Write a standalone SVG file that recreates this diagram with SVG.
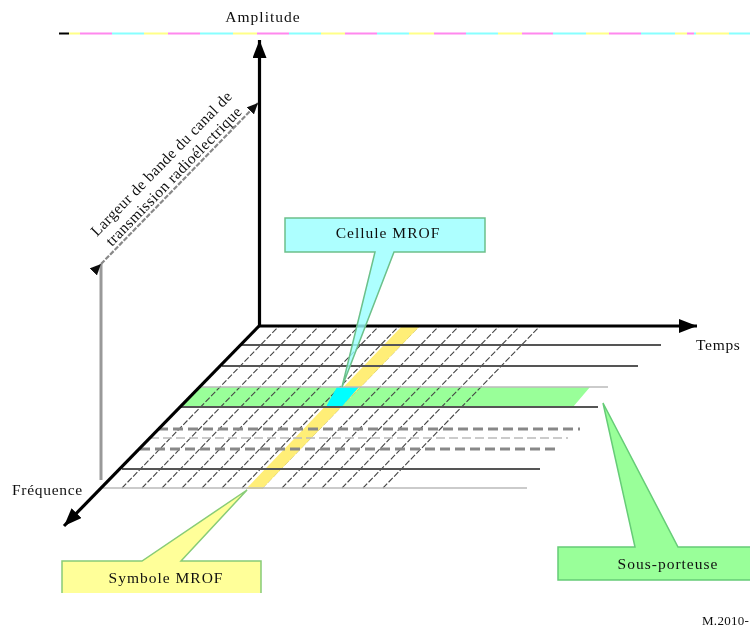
<svg xmlns="http://www.w3.org/2000/svg" width="750" height="627" viewBox="0 0 750 627">
<defs>
<filter id="soft" filterUnits="userSpaceOnUse" x="0" y="0" width="750" height="627"><feGaussianBlur stdDeviation="0.5"/></filter>
<style>
svg>g{filter:url(#soft)}
text{font-family:"Liberation Serif","Times New Roman",serif;font-size:15.5px;fill:#111;letter-spacing:1px}
.m{text-anchor:middle}
.r{letter-spacing:.45px}
.n{letter-spacing:.7px}
.grid{stroke:#444;stroke-width:1.1;stroke-dasharray:6 2;fill:none}
.h{stroke:#555;stroke-width:1.9;fill:none}
.hl{stroke:#bbb;stroke-width:1.6;fill:none}
.hd{stroke:#888;stroke-width:3;stroke-dasharray:10 5;fill:none}
.hdl{stroke:#bbb;stroke-width:1.4;stroke-dasharray:9 4;fill:none}
.axis{stroke:#000;stroke-width:3.2;fill:none}
.ga{stroke:#999;stroke-width:3;fill:none}
</style>
<marker id="big" markerUnits="userSpaceOnUse" markerWidth="20" markerHeight="14" refX="18" refY="7" orient="auto"><path d="M0 0L18 7L0 14Z" fill="#000"/></marker>
<marker id="small" markerUnits="userSpaceOnUse" markerWidth="12" markerHeight="10" refX="11" refY="5" orient="auto"><path d="M0 0L11 5L0 10Z" fill="#111"/></marker>
</defs>
<rect width="750" height="627" fill="#fff"/>
<g id="colour-strip" stroke-width="2" fill="none">
<path d="M59 33.5H69" stroke="#000"/>
<path d="M69 33.5H80M144 33.5H168M233 33.5H257M321 33.5H345M409 33.5H434M498 33.5H522M586 33.5H609M675 33.5H687M696 33.5H729" stroke="#ffff88"/>
<path d="M80 33.5H112M168 33.5H200M257 33.5H289M345 33.5H377M434 33.5H466M522 33.5H553M609 33.5H641M687 33.5H694" stroke="#ff88ee"/>
<path d="M112 33.5H144M200 33.5H233M289 33.5H321M377 33.5H409M466 33.5H498M553 33.5H586M641 33.5H675M694 33.5H696M729 33.5H750" stroke="#88ffff"/>
</g>
<g id="green-band">
<path d="M198 387H590L573 407H180Z" fill="#99ff99"/>
</g>
<g id="connectors">
<path class="grid" d="M122 488L279 326M142 488L299 326M162 488L319 326M182 488L339 326M202 488L359 326M222 488L379 326M242 488L399 326M262 488L419 326M282 488L439 326M302 488L459 326M322 488L479 326M342 488L499 326M363 488L520 326M383 488L540 326"/>
<path d="M246 489L402 326H420L262 489Z" fill="#ffee77"/>
<path d="M337 387H359L342 406.500H326Z" fill="#00ffff"/>
<path class="h" d="M241 345H661M222 366H638M180 407H598M122 469H540"/>
<path class="hl" d="M198 387H608M103 488H527"/>
<path class="hd" d="M158 429H580M140 449H558"/>
<path class="hdl" d="M150 438H568"/>
<path class="ga" d="M101 480V264"/>
<path d="M101 264L258 103" stroke="#888" stroke-width="2.200" stroke-dasharray="5 1.500" fill="none" marker-start="url(#small)" marker-end="url(#small)"/>
<path class="axis" d="M259.500 327V40" marker-end="url(#big)"/>
<path class="axis" d="M259 326H697" marker-end="url(#big)"/>
<path class="axis" d="M259 326L64 526" marker-end="url(#big)"/>
</g>
<g id="cellule-mrof">
<path d="M285 218H485V252H394L342 387L375 252H285Z" fill="#99ffff" fill-opacity=".8" stroke="#6cc08a" stroke-width="1.500"/>
<text class="m" x="388" y="238">Cellule MROF</text>
</g>
<g id="symbole-mrof">
<path d="M62 593V561H142L247 490L181 561H261V593" fill="#ffff99" stroke="#88cc77" stroke-width="1.500"/>
<text class="m" x="166" y="583">Symbole MROF</text>
</g>
<g id="sous-porteuse">
<path d="M750 547H678L603 403L635 547H558V580H750" fill="#99ff99" stroke="#66cc77" stroke-width="1.500"/>
<text class="m" x="668" y="569">Sous-porteuse</text>
</g>
<g id="labels">
<text class="m" x="263" y="22">Amplitude</text>
<text class="n" x="696" y="350">Temps</text>
<text class="n" x="12" y="495">Fréquence</text>
<text x="702" y="625" style="font-size:13px;letter-spacing:.3px">M.2010-</text>
<text class="r" transform="translate(97 237) rotate(-45.800)">Largeur de bande du canal de</text>
<text class="r" transform="translate(112 247) rotate(-45.800)">transmission radioélectrique</text>
</g>
</svg>
